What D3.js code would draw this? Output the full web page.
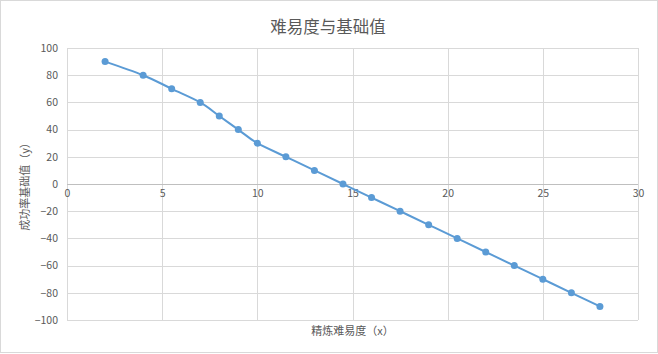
<!DOCTYPE html>
<html lang="zh">
    <head>
        <meta charset="utf-8">
        <title>难易度与基础值</title>
        <script type="text/javascript" src="https://d3js.org/d3.v7.min.js"></script>
        <style type="text/css">
            body { margin: 0; background: #fff; }
            text { font-family: "Noto Sans CJK SC", "Noto Sans", sans-serif; }
        </style>
    </head>
    <body>
        <script type="text/javascript">
            //Size of the page
            var w = 658;
            var h = 354;

            //Data
            var xValues = [2, 4, 5.5, 7, 8, 9, 10, 11.5, 13, 14.5, 16, 17.5, 19, 20.5, 22, 23.5, 25, 26.5, 28];
            var yValues = [90, 80, 70, 60, 50, 40, 30, 20, 10, 0, -10, -20, -30, -40, -50, -60, -70, -80, -90];
            var xTicks = [0, 5, 10, 15, 20, 25, 30];
            var yTicks = [-100, -80, -60, -40, -20, 0, 20, 40, 60, 80, 100];

            var title = "难易度与基础值";
            var xTitle = "精炼难易度（x）";
            var yTitle = "成功率基础值（y）";

            var plot = { left: 67, right: 638, top: 48, bottom: 320 };
            var textColor = "#595959";
            var gridColor = "#d9d9d9";
            var seriesColor = "#5b9bd5";

            var svg = d3.select("body")
                        .append("svg")
                        .attr("width", w)
                        .attr("height", h);

            //Chart border
            svg.append("rect")
               .attr("x", 0.5)
               .attr("y", 0.5)
               .attr("width", w - 1)
               .attr("height", h - 2)
               .attr("fill", "#fff")
               .attr("stroke", gridColor);

            var x = d3.scaleLinear().domain([0, 30]).range([plot.left, plot.right]);
            var y = d3.scaleLinear().domain([-100, 100]).range([plot.bottom, plot.top]);

            //Gridlines
            svg.append("g")
               .attr("transform", "translate(0," + plot.bottom + ")")
               .call(d3.axisBottom(x).tickValues(xTicks).tickSize(-(plot.bottom - plot.top)).tickFormat(""))
               .call(function(g) {
                    g.select(".domain").remove();
                    g.selectAll("line").attr("stroke", gridColor).attr("shape-rendering", "crispEdges");
               });

            svg.append("g")
               .attr("transform", "translate(" + plot.left + ",0)")
               .call(d3.axisLeft(y).tickValues(yTicks).tickSize(-(plot.right - plot.left)).tickPadding(9).tickFormat(d3.format("d")))
               .call(function(g) {
                    g.select(".domain").remove();
                    g.selectAll("line")
                     .attr("stroke", function(d) { return d === 0 ? "#bfbfbf" : gridColor; })
                     .attr("shape-rendering", "crispEdges");
                    g.selectAll("text")
                     .attr("fill", textColor)
                     .attr("font-size", "10.5px")
                     .attr("font-family", "'Noto Sans CJK SC', sans-serif");
               });

            //X tick labels sit under the zero line
            svg.append("g")
               .attr("transform", "translate(0," + y(0) + ")")
               .call(d3.axisBottom(x).tickValues(xTicks).tickSize(0).tickPadding(6))
               .call(function(g) {
                    g.select(".domain").remove();
                    g.selectAll("text")
                     .attr("fill", textColor)
                     .attr("font-size", "10.5px")
                     .attr("font-family", "'Noto Sans CJK SC', sans-serif");
               });

            //Series
            var points = xValues.map(function(d, i) { return [d, yValues[i]]; });

            var line = d3.line()
                         .x(function(d) { return x(d[0]); })
                         .y(function(d) { return y(d[1]); })
                         .curve(d3.curveCatmullRom.alpha(0));

            svg.append("path")
               .datum(points)
               .attr("d", line)
               .attr("fill", "none")
               .attr("stroke", seriesColor)
               .attr("stroke-width", 2);

            svg.selectAll("circle")
               .data(points)
               .enter()
               .append("circle")
               .attr("cx", function(d) { return x(d[0]); })
               .attr("cy", function(d) { return y(d[1]); })
               .attr("r", 3.5)
               .attr("fill", seriesColor);

            //Titles
            svg.append("text")
               .text(title)
               .attr("x", 328)
               .attr("y", 27)
               .attr("dy", "0.35em")
               .attr("text-anchor", "middle")
               .attr("font-size", "16.5px")
               .attr("fill", textColor);

            svg.append("text")
               .text(xTitle)
               .attr("x", (plot.left + plot.right) / 2)
               .attr("y", 331)
               .attr("dy", "0.35em")
               .attr("text-anchor", "middle")
               .attr("font-size", "11px")
               .attr("fill", textColor);

            svg.append("text")
               .text(yTitle)
               .attr("transform", "translate(25," + ((plot.top + plot.bottom) / 2) + ") rotate(-90)")
               .attr("dy", "0.35em")
               .attr("text-anchor", "middle")
               .attr("font-size", "11px")
               .attr("fill", textColor);
        </script>
    </body>
</html>
